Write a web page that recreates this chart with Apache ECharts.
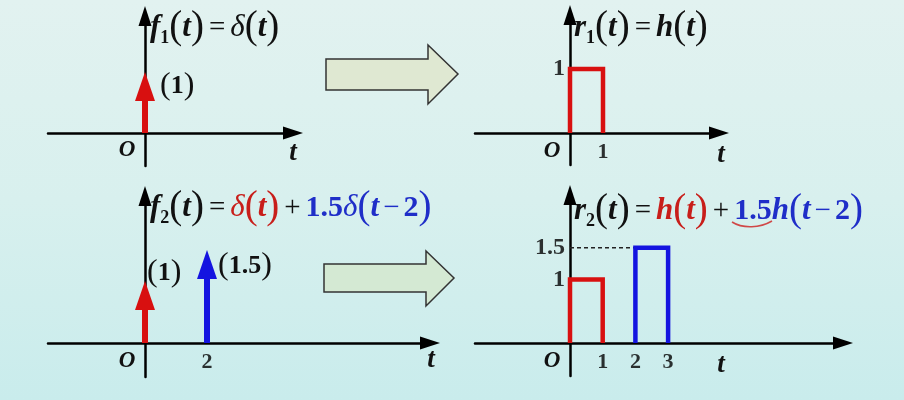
<!DOCTYPE html>
<html><head><meta charset="utf-8">
<script src="https://cdn.jsdelivr.net/npm/echarts@6/dist/echarts.min.js"></script>
<style>
html,body{margin:0;padding:0;}
#c{width:904px;height:400px;background:linear-gradient(180deg,#e2f2f0 0%,#d8f0ee 50%,#c9ecec 100%);}
</style>
</head><body><div id="c"></div>
<script>
// ---------- data ----------
const f1Times = [0];
const f1Weights = [1];
const r1Points = [[0, 0], [0, 1], [1, 1], [1, 0]];
const f2Times = [0, 2];
const f2Weights = [1, 1.5];
const r2RedPoints = [[0, 0], [0, 1], [1, 1], [1, 0]];
const r2BluePoints = [[2, 0], [2, 1.5], [3, 1.5], [3, 0]];
const r2DashPoints = [[0, 1.5], [2, 1.5]];
const r1XTicks = [1];
const r1YTicks = [1];
const f2XTicks = [2];
const r2XTicks = [1, 2, 3];
const r2YTicks = [1, 1.5];

// ---------- style ----------
const RED = '#d81010', BLUE = '#1414e0';
const TRED = '#c81e1a', TBLUE = '#1f2ec8';
const SERIF = '"Liberation Serif","Times New Roman",serif';

function panel(o) {
  return {
    grid: { left: o.x0, top: o.y1, width: o.x1 - o.x0, height: o.y0 - o.y1, containLabel: false, outerBoundsMode: 'none' },
    xMin: (o.x0 - o.ox) / o.ux, xMax: (o.x1 - o.ox) / o.ux,
    yMin: -(o.y0 - o.oy) / o.uy, yMax: (o.oy - o.y1) / o.uy
  };
}
const P = [
  panel({ ox: 145, oy: 133, x0: 48, x1: 293, y0: 166, y1: 16, ux: 31, uy: 61 }),
  panel({ ox: 570, oy: 133, x0: 475, x1: 719, y0: 165, y1: 15, ux: 33, uy: 64 }),
  panel({ ox: 145, oy: 343, x0: 48, x1: 430, y0: 377, y1: 196, ux: 31, uy: 62 }),
  panel({ ox: 570, oy: 343, x0: 475, x1: 843, y0: 376, y1: 195, ux: 32.7, uy: 63.5 })
];

const axisLineStyle = { onZero: true, symbol: ['none', 'triangle'], symbolSize: [13, 20], lineStyle: { color: '#000', width: 2.5 } };
function axis(i, isX) {
  return {
    type: 'value', gridIndex: i,
    min: isX ? P[i].xMin : P[i].yMin, max: isX ? P[i].xMax : P[i].yMax,
    splitLine: { show: false }, axisTick: { show: false }, axisLabel: { show: false }, axisLine: axisLineStyle
  };
}

// tick labels drawn at their values through the axis scales
function tickSeries(i, ticks, isX) {
  return {
    type: 'scatter', xAxisIndex: i, yAxisIndex: i, silent: true, symbolSize: 0,
    data: ticks.map(v => isX ? [v, 0] : [0, v]),
    label: {
      show: true, position: isX ? 'bottom' : 'left', distance: isX ? 8 : 5,
      formatter: p => String(isX ? p.value[0] : p.value[1]),
      color: '#000', fontFamily: SERIF, fontWeight: 'bold', fontSize: isX ? 22 : 24
    }
  };
}

const labelRich = {
  p: { fontFamily: SERIF, fontSize: 32, fill: '#111' },
  n: { fontFamily: SERIF, fontSize: 26, fontWeight: 'bold', fill: '#111' }
};
function deltaSeries(i, times, weights, colors, offsets) {
  return {
    type: 'custom', coordinateSystem: 'cartesian2d', xAxisIndex: i, yAxisIndex: i, silent: true,
    data: times.map((t, k) => [t, weights[k]]),
    renderItem: function (params, api) {
      const t = api.value(0), w = api.value(1);
      const base = api.coord([t, 0]), tip = api.coord([t, w]);
      const c = colors[params.dataIndex], off = offsets[params.dataIndex];
      const hh = 29, hw = 20;
      return {
        type: 'group', children: [
          { type: 'line', shape: { x1: base[0], y1: base[1], x2: tip[0], y2: tip[1] + hh - 2 }, style: { stroke: c, lineWidth: 6 } },
          { type: 'polygon', shape: { points: [[tip[0], tip[1]], [tip[0] - hw / 2, tip[1] + hh], [tip[0] + hw / 2, tip[1] + hh]] }, style: { fill: c } },
          { type: 'text', x: tip[0] + off[0], y: tip[1] + off[1], style: { text: '{p|(}{n|' + w + '}{p|)}', rich: labelRich, align: 'left', verticalAlign: 'middle' } }
        ]
      };
    }
  };
}
function pulseSeries(i, pts, color, width, dash) {
  return {
    type: 'line', xAxisIndex: i, yAxisIndex: i, data: pts, showSymbol: false, silent: true,
    itemStyle: { color: color },
    lineStyle: { color: color, width: width, type: dash || 'solid', join: 'miter', cap: 'butt' }
  };
}

// title rich text
function tok(color, size, italic, bold) {
  return { fontFamily: SERIF, fontSize: size, fontStyle: italic ? 'italic' : 'normal', fontWeight: bold ? 'bold' : 'normal', fill: color };
}
const VS = 31, PS = 39, NS = 30, OS = 29;
const titleRich = {
  v: tok('#111', VS, true, true),
  s: Object.assign(tok('#111', 18, false, true), { verticalAlign: 'bottom' }),
  p: tok('#111', PS, false, false),
  o: Object.assign(tok('#111', OS, false, false), { padding: [0, 5] }),
  d: tok('#111', VS, true, false),
  rv: tok(TRED, VS, true, true), rp: tok(TRED, PS, false, false), rd: tok(TRED, VS, true, false),
  bv: tok(TBLUE, VS, true, true), bp: tok(TBLUE, PS, false, false), bd: tok(TBLUE, VS, true, false),
  bn: tok(TBLUE, NS, false, true), bo: Object.assign(tok(TBLUE, OS, false, false), { padding: [0, 4] })
};
function titleText(text, x, y) {
  return { type: 'text', x: x, y: y, silent: true, style: { text: text, rich: titleRich, verticalAlign: 'middle', align: 'left' } };
}
function plainText(text, x, y, size) {
  return { type: 'text', x: x, y: y, silent: true, style: { text: text, fontFamily: SERIF, fontSize: size, fontStyle: 'italic', fontWeight: 'bold', fill: '#111', align: 'center', verticalAlign: 'middle' } };
}
function blockArrow(pts, fill) {
  return { type: 'polygon', silent: true, shape: { points: pts }, style: { fill: fill, stroke: '#333', lineWidth: 1.5 } };
}

const chart = echarts.init(document.getElementById('c'), null, { renderer: 'canvas' });
chart.setOption({
  animation: false,
  backgroundColor: 'transparent',
  grid: P.map(p => p.grid),
  xAxis: [axis(0, true), axis(1, true), axis(2, true), axis(3, true)],
  yAxis: [axis(0, false), axis(1, false), axis(2, false), axis(3, false)],
  series: [
    deltaSeries(0, f1Times, f1Weights, [RED], [[15, 14]]),
    pulseSeries(1, r1Points, RED, 4.5),
    deltaSeries(2, f2Times, f2Weights, [RED, BLUE], [[2, -8], [11, 16]]),
    pulseSeries(3, r2DashPoints, '#222', 1.5, [4, 3]),
    pulseSeries(3, r2RedPoints, RED, 4.5),
    pulseSeries(3, r2BluePoints, BLUE, 4.5),
    tickSeries(1, r1XTicks, true), tickSeries(1, r1YTicks, false),
    tickSeries(2, f2XTicks, true),
    tickSeries(3, r2XTicks, true), tickSeries(3, r2YTicks, false)
  ],
  graphic: [
    titleText('{v|f}{s|1}{p|(}{v|t}{p|)}{o|=}{d|δ}{p|(}{v|t}{p|)}', 150, 28),
    titleText('{v|r}{s|1}{p|(}{v|t}{p|)}{o|=}{v|h}{p|(}{v|t}{p|)}', 574, 28),
    titleText('{v|f}{s|2}{p|(}{v|t}{p|)}{o|=}{rd|δ}{rp|(}{rv|t}{rp|)}{o|+}{bn|1.5}{bd|δ}{bp|(}{bv|t}{bo|−}{bn|2}{bp|)}', 150, 208),
    titleText('{v|r}{s|2}{p|(}{v|t}{p|)}{o|=}{rv|h}{rp|(}{rv|t}{rp|)}{o|+}{bn|1.5}{bv|h}{bp|(}{bv|t}{bo|−}{bn|2}{bp|)}', 574, 211),
    plainText('O', 127, 150, 23), plainText('O', 552, 151, 23), plainText('O', 127, 361, 23), plainText('O', 552, 361, 23),
    plainText('t', 293, 153, 27), plainText('t', 721, 155, 27), plainText('t', 431, 360, 27), plainText('t', 721, 365, 27),
    blockArrow([[326, 59], [428, 59], [428, 45], [458, 74], [428, 104], [428, 90], [326, 90]], '#dfe8d2'),
    blockArrow([[324, 264], [426, 264], [426, 251], [454, 278], [426, 306], [426, 292], [324, 292]], '#d4e9d3'),
    { type: 'bezierCurve', silent: true, shape: { x1: 732, y1: 222, x2: 772, y2: 221, cpx1: 743, cpy1: 229, cpx2: 760, cpy2: 228 }, style: { stroke: '#d04848', lineWidth: 1.5, fill: null } }
  ]
});
</script>
</body></html>
